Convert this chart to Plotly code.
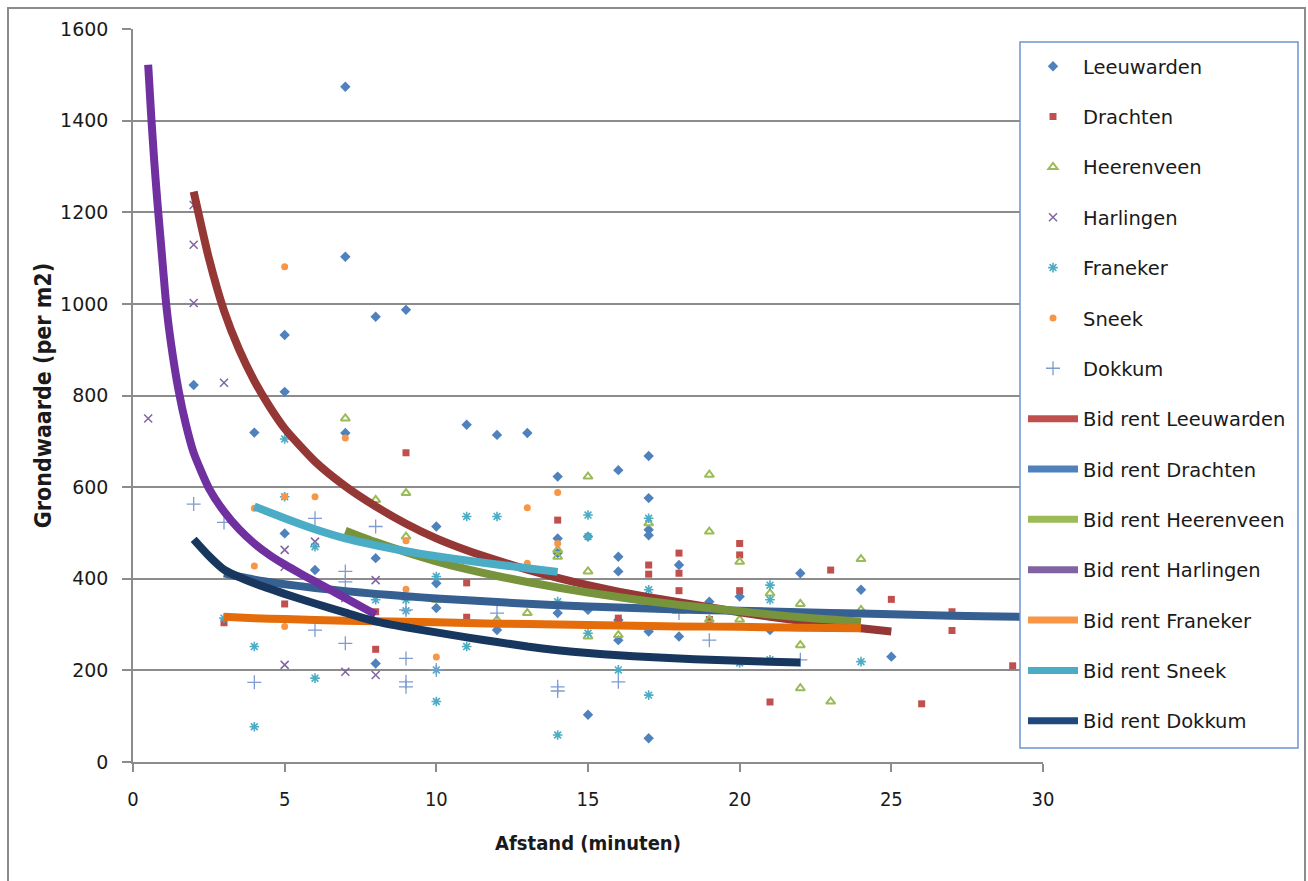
import plotly.graph_objects as go

# ---------------- data ----------------
leeuwarden_x = [2, 4, 5, 5, 5, 6, 7, 7, 7, 8, 8, 8, 9, 10, 10, 10, 11, 12, 12, 13, 14, 14, 14, 14,
                15, 15, 15, 16, 16, 16, 16, 16, 17, 17, 17, 17, 17, 17, 18, 18, 19, 20, 21, 22, 24, 25]
leeuwarden_y = [823, 719, 932, 808, 499, 419, 1474, 1103, 718, 972, 445, 215, 987, 514, 390, 336,
                736, 714, 288, 718, 623, 488, 456, 325, 492, 332, 103, 637, 448, 416, 310, 266,
                668, 576, 507, 495, 285, 52, 430, 274, 350, 361, 288, 412, 376, 230]

drachten_x = [3, 5, 8, 8, 9, 11, 11, 14, 16, 17, 17, 18, 18, 18, 19, 20, 20, 20, 21, 23, 25, 26, 27, 27, 29]
drachten_y = [304, 345, 328, 246, 675, 391, 316, 528, 314, 430, 410, 456, 412, 374, 311, 477, 452,
              374, 131, 419, 355, 127, 328, 287, 210]

heerenveen_x = [7, 8, 9, 9, 10, 12, 13, 14, 14, 15, 15, 15, 16, 17, 19, 19, 19, 20, 20, 21, 22, 22, 22, 23, 24, 24]
heerenveen_y = [750, 572, 587, 492, 354, 310, 325, 463, 448, 623, 416, 274, 277, 521, 627, 503, 311,
                437, 311, 368, 345, 255, 161, 132, 443, 332]

harlingen_x = [0.5, 2, 2, 2, 3, 5, 5, 5, 6, 7, 7, 8, 8]
harlingen_y = [750, 1216, 1129, 1002, 828, 463, 426, 212, 481, 358, 197, 397, 190]

franeker_x = [3, 4, 4, 5, 5, 6, 6, 8, 9, 9, 10, 10, 10, 11, 11, 12, 14, 14, 15, 15, 15, 16, 17, 17, 17,
              20, 21, 21, 21, 24]
franeker_y = [314, 252, 77, 705, 579, 470, 183, 354, 354, 330, 405, 201, 132, 536, 252, 536, 350, 59,
              539, 492, 281, 201, 532, 376, 146, 216, 386, 354, 223, 219]

sneek_x = [4, 4, 5, 5, 5, 6, 7, 9, 9, 10, 13, 13, 14, 14]
sneek_y = [554, 428, 1081, 579, 296, 579, 707, 483, 377, 229, 555, 434, 588, 477]

dokkum_x = [2, 3, 4, 6, 6, 7, 7, 7, 8, 9, 9, 9, 9, 10, 12, 14, 14, 16, 18, 19, 22]
dokkum_y = [563, 523, 174, 532, 288, 416, 393, 259, 514, 226, 175, 164, 332, 201, 325, 164, 155, 175,
            325, 266, 223]

# bid rent curves
bid_leeuwarden_x = [2, 2.5, 3, 3.5, 4, 4.5, 5, 6, 7, 8, 9, 10, 11, 12, 13, 14, 15, 16, 17,
                    18, 19, 20, 21, 22, 23, 24, 25]
bid_leeuwarden_y = [1245, 1100, 985, 900, 832, 776, 728, 656, 602, 558, 520, 488, 462, 440,
                    420, 402, 386, 372, 360, 349, 338, 327, 317, 308, 300, 292, 285]
bid_drachten_x = [3, 4, 5, 6, 7, 8, 9, 10, 12, 14, 16, 18, 20, 22, 24, 26, 28, 30]
bid_drachten_y = [412, 398, 388, 380, 373, 367, 362, 357, 349, 342, 337, 333, 330, 327, 324, 321, 318, 316]
bid_heerenveen_x = [7, 8, 9, 10, 11, 12, 13, 14, 15, 16, 17, 18, 19, 20, 21, 22, 23, 24]
bid_heerenveen_y = [505, 480, 458, 438, 421, 406, 393, 381, 370, 360, 351, 343, 336, 329, 322, 316, 311, 306]
bid_harlingen_x = [0.5, 0.6, 0.7, 0.8, 0.9, 1.0, 1.1, 1.25, 1.5, 1.75, 2, 2.5, 3, 3.5, 4, 4.5, 5,
                   5.5, 6, 6.5, 7, 7.5, 8]
bid_harlingen_y = [1522, 1410, 1312, 1225, 1148, 1070, 995, 915, 812, 735, 675, 598, 547, 508, 477,
                   452, 431, 412, 394, 376, 358, 340, 322]
bid_franeker_x = [3, 4, 5, 6, 8, 10, 12, 14, 16, 18, 20, 22, 24]
bid_franeker_y = [317, 314, 312, 310, 307, 305, 302, 300, 298, 296, 295, 293, 292]
bid_sneek_x = [4, 5, 6, 7, 8, 9, 10, 11, 12, 13, 14]
bid_sneek_y = [558, 532, 508, 488, 473, 460, 449, 440, 431, 423, 415]
bid_dokkum_x = [2, 2.5, 3, 4, 5, 6, 7, 8, 9, 10, 11, 12, 13, 14, 15, 16, 17, 18, 19, 20, 21, 22]
bid_dokkum_y = [486, 450, 420, 390, 367, 346, 326, 307, 294, 283, 272, 262, 252, 244, 238, 233, 229,
                226, 223, 221, 219, 217]

x_ticks = [0, 5, 10, 15, 20, 25, 30]
y_ticks = [0, 200, 400, 600, 800, 1000, 1200, 1400, 1600]

# ---------------- figure ----------------
fig = go.Figure()

scatter_series = [
    ("Leeuwarden", leeuwarden_x, leeuwarden_y, "diamond", "#4F81BD", 8, 0),
    ("Drachten", drachten_x, drachten_y, "square", "#C0504D", 7, 0),
    ("Heerenveen", heerenveen_x, heerenveen_y, "triangle-up-open", "#9BBB59", 8, 2),
    ("Harlingen", harlingen_x, harlingen_y, "x-thin-open", "#8064A2", 8, 1.5),
    ("Franeker", franeker_x, franeker_y, "asterisk-open", "#4BACC6", 8, 1.6),
    ("Sneek", sneek_x, sneek_y, "circle", "#F79646", 7, 0),
    ("Dokkum", dokkum_x, dokkum_y, "cross-thin-open", "#7F9BD0", 10, 1.3),
]
for i, (name, xs, ys, sym, col, size, lw) in enumerate(scatter_series):
    marker = dict(symbol=sym, color=col, size=size)
    marker["line"] = dict(color=col, width=lw) if lw else dict(width=0)
    fig.add_trace(go.Scatter(x=xs, y=ys, mode="markers", name=name, marker=marker,
                             legendgroup="g%d" % i, showlegend=True))

line_series = [
    ("Bid rent Leeuwarden", bid_leeuwarden_x, bid_leeuwarden_y, "#953735", "#C0504D"),
    ("Bid rent Drachten", bid_drachten_x, bid_drachten_y, "#376092", "#4F81BD"),
    ("Bid rent Heerenveen", bid_heerenveen_x, bid_heerenveen_y, "#77933C", "#9BBB59"),
    ("Bid rent Harlingen", bid_harlingen_x, bid_harlingen_y, "#7030A0", "#8064A2"),
    ("Bid rent Franeker", bid_franeker_x, bid_franeker_y, "#E46C0A", "#F79646"),
    ("Bid rent Sneek", bid_sneek_x, bid_sneek_y, "#4BACC6", "#4BACC6"),
    ("Bid rent Dokkum", bid_dokkum_x, bid_dokkum_y, "#17375E", "#1F497D"),
]
for j, (name, xs, ys, col, lcol) in enumerate(line_series):
    fig.add_trace(go.Scatter(x=xs, y=ys, mode="lines", name=name,
                             line=dict(color=col, width=8, shape="spline", smoothing=0.6),
                             legendgroup="l%d" % j, showlegend=False))
    # legend entry (lighter legend colour, as in the reference)
    fig.add_trace(go.Scatter(x=[None], y=[None], mode="lines", name=name,
                             line=dict(color=lcol, width=7),
                             legendgroup="l%d" % j, showlegend=True))

W, H = 1308, 881
L, R, T, B = 133, 265, 29, 119
pw, ph = W - L - R, H - T - B

def px_x(p):
    return (p - L) / pw

def px_y(p):
    return (H - B - p) / ph

narrow = "DejaVu Sans Condensed, Open Sans, sans-serif"

fig.update_layout(
    width=W, height=H,
    margin=dict(l=L, r=R, t=T, b=B, pad=0),
    paper_bgcolor="white", plot_bgcolor="white",
    font=dict(family="DejaVu Sans, Verdana, sans-serif", color="#1a1a1a"),
    showlegend=True,
    legend=dict(
        x=px_x(1023), y=px_y(47), xanchor="left", yanchor="top",
        bgcolor="rgba(0,0,0,0)", borderwidth=0,
        font=dict(family="DejaVu Sans, Verdana, sans-serif", size=19.5, color="#1a1a1a"),
        tracegroupgap=22, traceorder="grouped", itemwidth=50,
    ),
    xaxis=dict(
        range=[0, 30], tickmode="array", tickvals=x_ticks, ticktext=[str(v) for v in x_ticks],
        showgrid=False, zeroline=False,
        showline=True, linecolor="#8c8c8c", linewidth=1.5,
        ticks="outside", ticklen=8, tickcolor="#8c8c8c", tickwidth=1.5,
        tickfont=dict(family=narrow, size=20, color="#1a1a1a"),
        ticklabelstandoff=10,
        title=dict(text="<b>Afstand (minuten)</b>",
                   font=dict(family=narrow, size=20, color="#1a1a1a"),
                   standoff=26),
    ),
    yaxis=dict(
        range=[0, 1600], tickmode="array", tickvals=y_ticks, ticktext=[str(v) for v in y_ticks],
        showgrid=True, gridcolor="#8c8c8c", gridwidth=1.5, zeroline=False,
        showline=True, linecolor="#8c8c8c", linewidth=1.5,
        ticks="outside", ticklen=9, tickcolor="#8c8c8c", tickwidth=1.5,
        tickfont=dict(family="DejaVu Sans, Verdana, sans-serif", size=19, color="#1a1a1a"),
        ticklabelstandoff=10,
        title=dict(text="<b>Grondwaarde (per m2)</b>",
                   font=dict(family=narrow, size=23, color="#1a1a1a"),
                   standoff=2),
    ),
    shapes=[
        # outer chart border
        dict(type="rect", xref="paper", yref="paper",
             x0=px_x(8), x1=px_x(1305), y0=px_y(890), y1=px_y(8),
             line=dict(color="#8c8c8c", width=2), fillcolor="rgba(0,0,0,0)", layer="below"),
        # legend box
        dict(type="rect", xref="paper", yref="paper",
             x0=px_x(1020), x1=px_x(1298), y0=px_y(748), y1=px_y(42),
             line=dict(color="#6D95CE", width=1.5), fillcolor="white", layer="above"),
    ],
)

fig.write_html("out.html")
